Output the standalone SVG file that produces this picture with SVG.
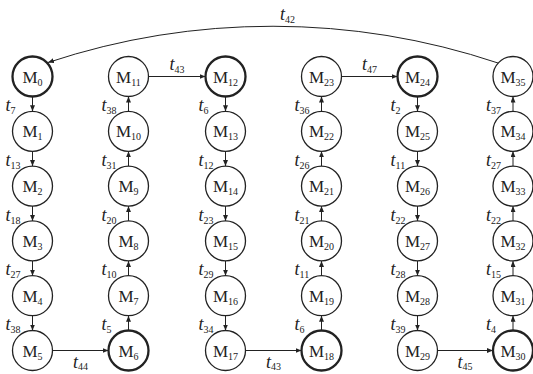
<svg xmlns="http://www.w3.org/2000/svg" width="533" height="374" viewBox="0 0 533 374">
<style>
.n circle{fill:#fff;stroke:#222;stroke-width:1.3}
.n.b circle{stroke-width:2.3}
.n text{font-family:"Liberation Serif","Times New Roman",serif;font-size:17px;fill:#222;text-anchor:middle}
.s{font-size:10px;font-style:normal}
.e line,.e path{stroke:#222;stroke-width:1;fill:none;marker-end:url(#ah)}
.el{font-family:"Liberation Serif","Times New Roman",serif;font-size:18px;font-style:italic;fill:#222}
.c{text-anchor:middle}
</style>
<defs>
<marker id="ah" markerUnits="userSpaceOnUse" markerWidth="6" markerHeight="5" refX="6" refY="2.5" orient="auto">
<path d="M0,0 L6,2.5 L0,5 z" fill="#222"/>
</marker>
</defs>
<g id="connectors" class="e">
<path d="M498 63 A712 712 0 0 0 48 62.5"/>
<line x1="32.5" y1="96.5" x2="32.5" y2="111.3"/>
<line x1="32.5" y1="151.3" x2="32.5" y2="166.1"/>
<line x1="32.5" y1="206.1" x2="32.5" y2="220.9"/>
<line x1="32.5" y1="260.9" x2="32.5" y2="275.7"/>
<line x1="32.5" y1="315.7" x2="32.5" y2="330.5"/>
<line x1="128.5" y1="111.3" x2="128.5" y2="96.5"/>
<line x1="128.5" y1="166.1" x2="128.5" y2="151.3"/>
<line x1="128.5" y1="220.9" x2="128.5" y2="206.1"/>
<line x1="128.5" y1="275.7" x2="128.5" y2="260.9"/>
<line x1="128.5" y1="330.5" x2="128.5" y2="315.7"/>
<line x1="225.5" y1="96.5" x2="225.5" y2="111.3"/>
<line x1="225.5" y1="151.3" x2="225.5" y2="166.1"/>
<line x1="225.5" y1="206.1" x2="225.5" y2="220.9"/>
<line x1="225.5" y1="260.9" x2="225.5" y2="275.7"/>
<line x1="225.5" y1="315.7" x2="225.5" y2="330.5"/>
<line x1="321.5" y1="111.3" x2="321.5" y2="96.5"/>
<line x1="321.5" y1="166.1" x2="321.5" y2="151.3"/>
<line x1="321.5" y1="220.9" x2="321.5" y2="206.1"/>
<line x1="321.5" y1="275.7" x2="321.5" y2="260.9"/>
<line x1="321.5" y1="330.5" x2="321.5" y2="315.7"/>
<line x1="417.5" y1="96.5" x2="417.5" y2="111.3"/>
<line x1="417.5" y1="151.3" x2="417.5" y2="166.1"/>
<line x1="417.5" y1="206.1" x2="417.5" y2="220.9"/>
<line x1="417.5" y1="260.9" x2="417.5" y2="275.7"/>
<line x1="417.5" y1="315.7" x2="417.5" y2="330.5"/>
<line x1="513" y1="111.3" x2="513" y2="96.5"/>
<line x1="513" y1="166.1" x2="513" y2="151.3"/>
<line x1="513" y1="220.9" x2="513" y2="206.1"/>
<line x1="513" y1="275.7" x2="513" y2="260.9"/>
<line x1="513" y1="330.5" x2="513" y2="315.7"/>
<line x1="52.5" y1="350.5" x2="108.5" y2="350.5"/>
<line x1="148.5" y1="76.5" x2="205.5" y2="76.5"/>
<line x1="245.5" y1="350.5" x2="301.5" y2="350.5"/>
<line x1="341.5" y1="76.5" x2="397.5" y2="76.5"/>
<line x1="437.5" y1="350.5" x2="493" y2="350.5"/>
</g>
<g id="edge-labels" class="el">
<text x="287.5" y="20" class="c">t<tspan class="s" dy="3">42</tspan></text>
<text x="177" y="70" class="c">t<tspan class="s" dy="3">43</tspan></text>
<text x="369.5" y="70" class="c">t<tspan class="s" dy="3">47</tspan></text>
<text x="80.5" y="368" class="c">t<tspan class="s" dy="2">44</tspan></text>
<text x="273.5" y="368" class="c">t<tspan class="s" dy="2">43</tspan></text>
<text x="465" y="368" class="c">t<tspan class="s" dy="2">45</tspan></text>
<text x="5.5" y="110.9">t<tspan class="s" dy="3">7</tspan></text>
<text x="5.5" y="165.7">t<tspan class="s" dy="3">13</tspan></text>
<text x="5.5" y="220.5">t<tspan class="s" dy="3">18</tspan></text>
<text x="5.5" y="275.3">t<tspan class="s" dy="3">27</tspan></text>
<text x="5.5" y="330.1">t<tspan class="s" dy="3">38</tspan></text>
<text x="101.5" y="110.9">t<tspan class="s" dy="3">38</tspan></text>
<text x="101.5" y="165.7">t<tspan class="s" dy="3">31</tspan></text>
<text x="101.5" y="220.5">t<tspan class="s" dy="3">20</tspan></text>
<text x="101.5" y="275.3">t<tspan class="s" dy="3">10</tspan></text>
<text x="101.5" y="330.1">t<tspan class="s" dy="3">5</tspan></text>
<text x="198.5" y="110.9">t<tspan class="s" dy="3">6</tspan></text>
<text x="198.5" y="165.7">t<tspan class="s" dy="3">12</tspan></text>
<text x="198.5" y="220.5">t<tspan class="s" dy="3">23</tspan></text>
<text x="198.5" y="275.3">t<tspan class="s" dy="3">29</tspan></text>
<text x="198.5" y="330.1">t<tspan class="s" dy="3">34</tspan></text>
<text x="294.5" y="110.9">t<tspan class="s" dy="3">36</tspan></text>
<text x="294.5" y="165.7">t<tspan class="s" dy="3">26</tspan></text>
<text x="294.5" y="220.5">t<tspan class="s" dy="3">21</tspan></text>
<text x="294.5" y="275.3">t<tspan class="s" dy="3">11</tspan></text>
<text x="294.5" y="330.1">t<tspan class="s" dy="3">6</tspan></text>
<text x="390.5" y="110.9">t<tspan class="s" dy="3">2</tspan></text>
<text x="390.5" y="165.7">t<tspan class="s" dy="3">11</tspan></text>
<text x="390.5" y="220.5">t<tspan class="s" dy="3">22</tspan></text>
<text x="390.5" y="275.3">t<tspan class="s" dy="3">28</tspan></text>
<text x="390.5" y="330.1">t<tspan class="s" dy="3">39</tspan></text>
<text x="486" y="110.9">t<tspan class="s" dy="3">37</tspan></text>
<text x="486" y="165.7">t<tspan class="s" dy="3">27</tspan></text>
<text x="486" y="220.5">t<tspan class="s" dy="3">22</tspan></text>
<text x="486" y="275.3">t<tspan class="s" dy="3">15</tspan></text>
<text x="486" y="330.1">t<tspan class="s" dy="3">4</tspan></text>
</g>
<g id="M0" class="n b"><circle cx="32.5" cy="76.5" r="20"/><text x="32.5" y="82.5">M<tspan class="s" dy="3">0</tspan></text></g>
<g id="M1" class="n"><circle cx="32.5" cy="131.3" r="20"/><text x="32.5" y="137.3">M<tspan class="s" dy="3">1</tspan></text></g>
<g id="M2" class="n"><circle cx="32.5" cy="186.1" r="20"/><text x="32.5" y="192.1">M<tspan class="s" dy="3">2</tspan></text></g>
<g id="M3" class="n"><circle cx="32.5" cy="240.9" r="20"/><text x="32.5" y="246.9">M<tspan class="s" dy="3">3</tspan></text></g>
<g id="M4" class="n"><circle cx="32.5" cy="295.7" r="20"/><text x="32.5" y="301.7">M<tspan class="s" dy="3">4</tspan></text></g>
<g id="M5" class="n"><circle cx="32.5" cy="350.5" r="20"/><text x="32.5" y="356.5">M<tspan class="s" dy="3">5</tspan></text></g>
<g id="M11" class="n"><circle cx="128.5" cy="76.5" r="20"/><text x="128.5" y="82.5">M<tspan class="s" dy="3">11</tspan></text></g>
<g id="M10" class="n"><circle cx="128.5" cy="131.3" r="20"/><text x="128.5" y="137.3">M<tspan class="s" dy="3">10</tspan></text></g>
<g id="M9" class="n"><circle cx="128.5" cy="186.1" r="20"/><text x="128.5" y="192.1">M<tspan class="s" dy="3">9</tspan></text></g>
<g id="M8" class="n"><circle cx="128.5" cy="240.9" r="20"/><text x="128.5" y="246.9">M<tspan class="s" dy="3">8</tspan></text></g>
<g id="M7" class="n"><circle cx="128.5" cy="295.7" r="20"/><text x="128.5" y="301.7">M<tspan class="s" dy="3">7</tspan></text></g>
<g id="M6" class="n b"><circle cx="128.5" cy="350.5" r="20"/><text x="128.5" y="356.5">M<tspan class="s" dy="3">6</tspan></text></g>
<g id="M12" class="n b"><circle cx="225.5" cy="76.5" r="20"/><text x="225.5" y="82.5">M<tspan class="s" dy="3">12</tspan></text></g>
<g id="M13" class="n"><circle cx="225.5" cy="131.3" r="20"/><text x="225.5" y="137.3">M<tspan class="s" dy="3">13</tspan></text></g>
<g id="M14" class="n"><circle cx="225.5" cy="186.1" r="20"/><text x="225.5" y="192.1">M<tspan class="s" dy="3">14</tspan></text></g>
<g id="M15" class="n"><circle cx="225.5" cy="240.9" r="20"/><text x="225.5" y="246.9">M<tspan class="s" dy="3">15</tspan></text></g>
<g id="M16" class="n"><circle cx="225.5" cy="295.7" r="20"/><text x="225.5" y="301.7">M<tspan class="s" dy="3">16</tspan></text></g>
<g id="M17" class="n"><circle cx="225.5" cy="350.5" r="20"/><text x="225.5" y="356.5">M<tspan class="s" dy="3">17</tspan></text></g>
<g id="M23" class="n"><circle cx="321.5" cy="76.5" r="20"/><text x="321.5" y="82.5">M<tspan class="s" dy="3">23</tspan></text></g>
<g id="M22" class="n"><circle cx="321.5" cy="131.3" r="20"/><text x="321.5" y="137.3">M<tspan class="s" dy="3">22</tspan></text></g>
<g id="M21" class="n"><circle cx="321.5" cy="186.1" r="20"/><text x="321.5" y="192.1">M<tspan class="s" dy="3">21</tspan></text></g>
<g id="M20" class="n"><circle cx="321.5" cy="240.9" r="20"/><text x="321.5" y="246.9">M<tspan class="s" dy="3">20</tspan></text></g>
<g id="M19" class="n"><circle cx="321.5" cy="295.7" r="20"/><text x="321.5" y="301.7">M<tspan class="s" dy="3">19</tspan></text></g>
<g id="M18" class="n b"><circle cx="321.5" cy="350.5" r="20"/><text x="321.5" y="356.5">M<tspan class="s" dy="3">18</tspan></text></g>
<g id="M24" class="n b"><circle cx="417.5" cy="76.5" r="20"/><text x="417.5" y="82.5">M<tspan class="s" dy="3">24</tspan></text></g>
<g id="M25" class="n"><circle cx="417.5" cy="131.3" r="20"/><text x="417.5" y="137.3">M<tspan class="s" dy="3">25</tspan></text></g>
<g id="M26" class="n"><circle cx="417.5" cy="186.1" r="20"/><text x="417.5" y="192.1">M<tspan class="s" dy="3">26</tspan></text></g>
<g id="M27" class="n"><circle cx="417.5" cy="240.9" r="20"/><text x="417.5" y="246.9">M<tspan class="s" dy="3">27</tspan></text></g>
<g id="M28" class="n"><circle cx="417.5" cy="295.7" r="20"/><text x="417.5" y="301.7">M<tspan class="s" dy="3">28</tspan></text></g>
<g id="M29" class="n"><circle cx="417.5" cy="350.5" r="20"/><text x="417.5" y="356.5">M<tspan class="s" dy="3">29</tspan></text></g>
<g id="M35" class="n"><circle cx="513" cy="76.5" r="20"/><text x="513" y="82.5">M<tspan class="s" dy="3">35</tspan></text></g>
<g id="M34" class="n"><circle cx="513" cy="131.3" r="20"/><text x="513" y="137.3">M<tspan class="s" dy="3">34</tspan></text></g>
<g id="M33" class="n"><circle cx="513" cy="186.1" r="20"/><text x="513" y="192.1">M<tspan class="s" dy="3">33</tspan></text></g>
<g id="M32" class="n"><circle cx="513" cy="240.9" r="20"/><text x="513" y="246.9">M<tspan class="s" dy="3">32</tspan></text></g>
<g id="M31" class="n"><circle cx="513" cy="295.7" r="20"/><text x="513" y="301.7">M<tspan class="s" dy="3">31</tspan></text></g>
<g id="M30" class="n b"><circle cx="513" cy="350.5" r="20"/><text x="513" y="356.5">M<tspan class="s" dy="3">30</tspan></text></g>
</svg>
